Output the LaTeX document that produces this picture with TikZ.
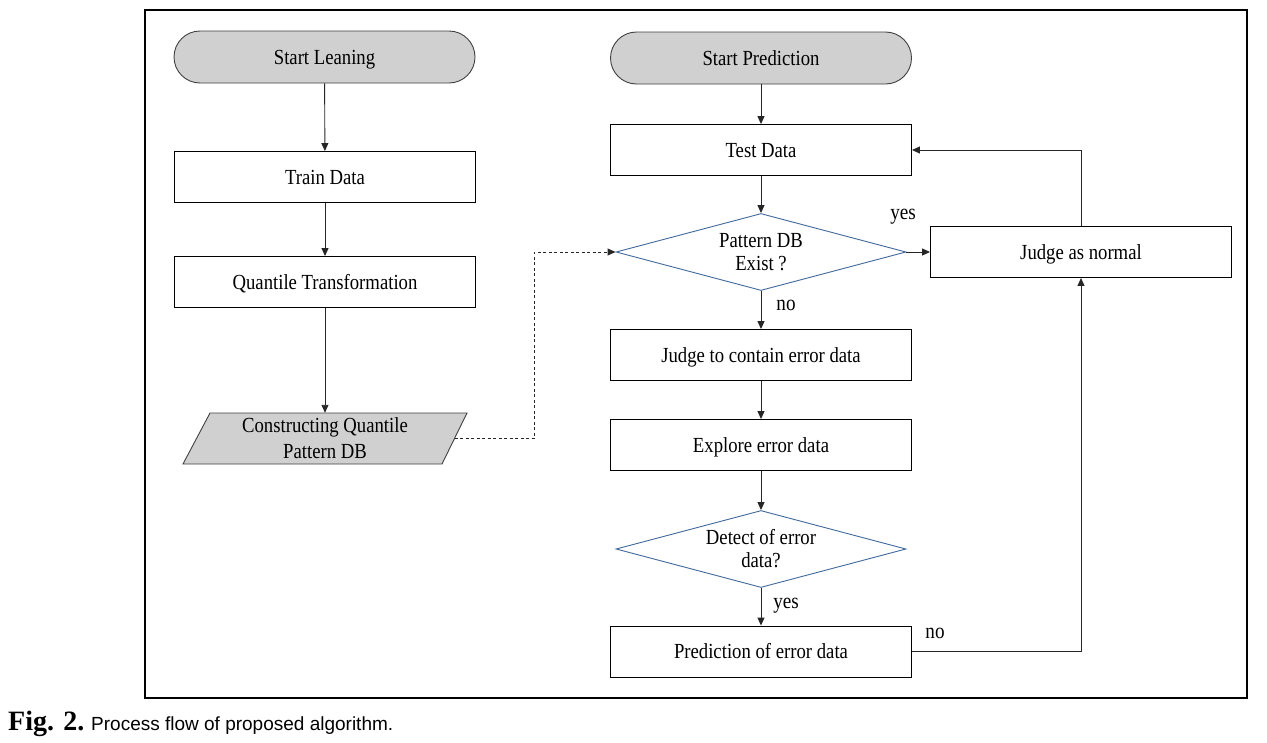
\documentclass[tikz,border=0pt]{standalone}
\usepackage{fontspec}
\usetikzlibrary{arrows.meta,shapes.geometric}
\newfontfamily\dfont{Liberation Serif}[FakeStretch=0.87]
\newfontfamily\capserif{Liberation Serif}
\newfontfamily\capsans{Liberation Sans}
\definecolor{termgray}{HTML}{D0D0D0}
\definecolor{diablue}{HTML}{41689A}
\tikzset{
  base/.style={font=\dfont\fontsize{21.5}{23}\selectfont, align=center, inner sep=0pt},
  oneline/.style={text height=14pt, text depth=0pt},
  term/.style={base, oneline, draw=black!75, fill=termgray, line width=0.9pt, rounded corners=26pt, minimum width=301pt, minimum height=52pt},
  proc/.style={base, oneline, draw=black, line width=0.9pt, minimum width=301pt, minimum height=51pt},
  decide/.style={base, diamond, aspect=3.77, draw=diablue, line width=0.9pt, minimum width=290pt, minimum height=77pt},
  conn/.style={draw=black!85, line width=0.9pt, -{Triangle[length=8pt,width=7pt]}},
  lbl/.style={font=\dfont\fontsize{22}{24}\selectfont, inner sep=0pt}
}
\begin{document}
\begin{tikzpicture}[x=1pt,y=-1pt]
\useasboundingbox (0,0) rectangle (1267,742);
\draw[line width=1.3pt] (145,10) rectangle (1247,698);

% left column
\node[term] (sl) at (324.5,57) {Start Leaning};
\node[proc] (train) at (325,177) {Train Data};
\node[proc] (qt) at (325,282) {Quantile Transformation};
\path[draw=black!75, fill=termgray, line width=0.9pt] (183,464) -- (210,413) -- (467,413) -- (442,464) -- cycle;
\node[base, minimum width=230pt, minimum height=51pt, font=\dfont\fontsize{21.5}{26}\selectfont] (cq) at (325,438.5) {Constructing Quantile\\Pattern DB};
\coordinate (cqr) at (454.5,438.5);
\coordinate (dk1) at (534,438.5);

% right column
\node[term] (sp) at (761,58) {Start Prediction};
\node[proc] (td) at (761,150) {Test Data};
\node[decide] (d1) at (761,252) {Pattern DB\\Exist ?};
\node[proc] (jn) at (1081,252) {Judge as normal};
\node[proc] (jc) at (761,355) {Judge to contain error data};
\node[proc] (ex) at (761,445) {Explore error data};
\node[decide] (d2) at (761,549) {Detect of error\\data?};
\node[proc] (pr) at (761,651.5) {Prediction of error data};

% labels
\node[lbl] (yes1) at (903,217) {yes};
\node[lbl] (no1) at (786,305) {no};
\node[lbl] (yes2) at (786,606) {yes};
\node[lbl] (no2) at (935,633) {no};

% connectors
\draw[conn] (sl) -- (train);
\draw[conn] (train) -- (qt);
\draw[conn] (qt) -- (cq.north);
\draw[conn] (sp) -- (td);
\draw[conn] (td) -- (d1.north);
\draw[conn] (d1.east) -- (jn.west);
\draw[conn] (d1.south) -- (jc.north);
\draw[conn] (jc) -- (ex);
\draw[conn] (ex) -- (d2.north);
\draw[conn] (d2.south) -- (pr.north);
\draw[conn] (pr.east) -| (jn.south);
\draw[conn] (jn.north) |- (td.east);
\draw[conn, dashed, dash pattern=on 3pt off 2.5pt] (cqr) -- (dk1) |- (d1.west);

% caption
\node[anchor=base west, inner sep=0pt, font=\capserif\bfseries\fontsize{28}{30}\selectfont] (figno) at (8,730) {Fig. 2.};
\node[anchor=base west, inner sep=0pt, font=\capsans\fontsize{19}{21}\selectfont] (cap) at (91,730) {Process flow of proposed algorithm.};
\end{tikzpicture}
\end{document}
